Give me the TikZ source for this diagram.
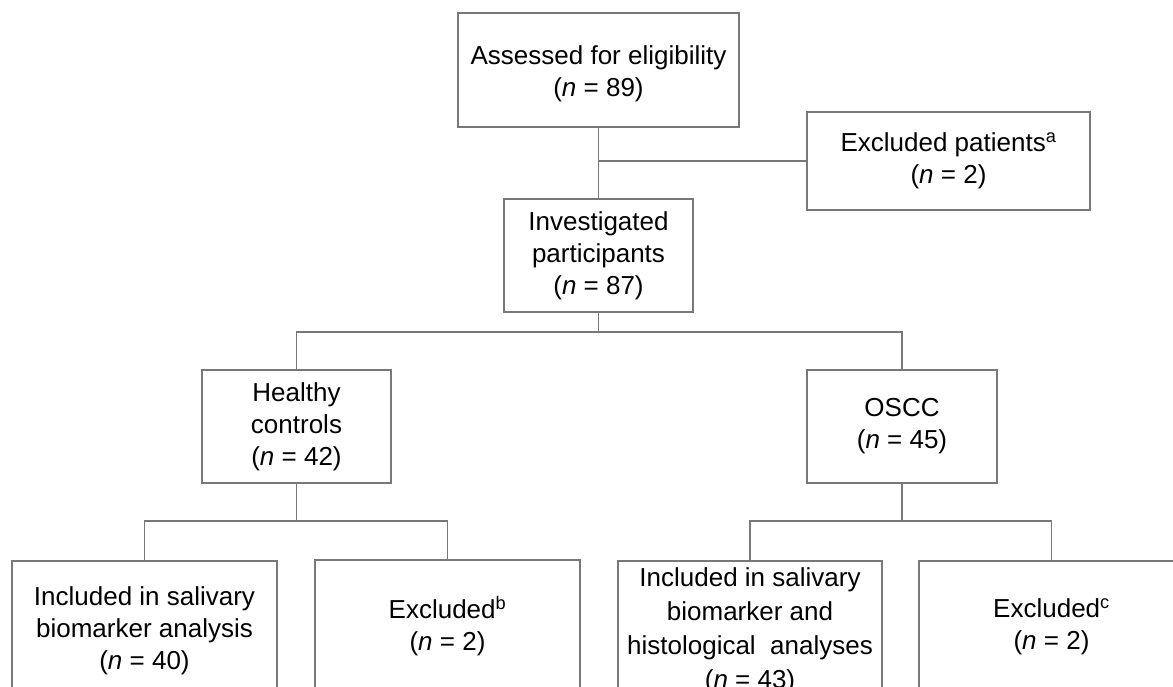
\documentclass[tikz,border=0pt]{standalone}
\usepackage{fontspec}
\setmainfont{Liberation Sans}
\definecolor{linegray}{RGB}{120,120,120}
\begin{document}
\begin{tikzpicture}[x=1pt,y=-1pt,
  box/.style={draw=linegray, line width=1.3pt, fill=white, align=center, inner sep=0pt,
              font=\fontsize{26}{32}\selectfont},
  conn/.style={draw=linegray, line width=1.5pt}]
\useasboundingbox (0,0) rectangle (1173,686);
\clip (0,0) rectangle (1173,686);
\fill[white] (0,0) rectangle (1173,686);
% nodes
\node[box, minimum width=281pt, minimum height=114pt] (A) at (598.5,70) {\rule{0pt}{27pt}Assessed for eligibility\\(\textit{n} = 89)};
\node[box, minimum width=283pt, minimum height=98pt] (E1) at (948.5,161) {Excluded patients\textsuperscript{a}\\(\textit{n} = 2)};
\node[box, minimum width=189pt, minimum height=113pt] (I) at (598.5,255.5) {Investigated\\participants\\(\textit{n} = 87)};
\node[box, minimum width=189pt, minimum height=113pt] (H) at (296.5,426.5) {Healthy\\controls\\(\textit{n} = 42)};
\node[box, minimum width=190pt, minimum height=113pt] (O) at (902,426.5) {OSCC\\(\textit{n} = 45)};
\node[box, minimum width=265pt, minimum height=140pt] (B1) at (144.5,631) {Included in salivary\\biomarker analysis\\(\textit{n} = 40)};
\node[box, minimum width=265pt, minimum height=140pt] (B2) at (447.5,630) {Excluded\textsuperscript{b}\\(\textit{n} = 2)\rule[-13pt]{0pt}{0pt}};
\node[box, minimum width=264pt, minimum height=140pt, font=\fontsize{26}{34}\selectfont] (B3) at (750,631) {Included in salivary\\biomarker and\\histological~ analyses\\(\textit{n} = 43)};
\node[box, minimum width=265pt, minimum height=140pt] (B4) at (1051.5,631) {Excluded\textsuperscript{c}\\(\textit{n} = 2)\rule[-13pt]{0pt}{0pt}};
% connectors
\draw[conn] (A.south) -- (I.north);
\coordinate (j1) at (A.south |- E1.west);
\draw[conn] (j1) -- (E1.west);
\coordinate (j2) at (598.5,332);
\draw[conn] (I.south) -- (j2);
\draw[conn] (H.north) |- (j2) -| (O.north);
\coordinate (j3) at (296.5,521);
\draw[conn] (H.south) -- (j3);
\draw[conn] (B1.north) |- (j3) -| (B2.north);
\coordinate (j4) at (902,521);
\draw[conn] (O.south) -- (j4);
\draw[conn] (B3.north) |- (j4) -| (B4.north);
\end{tikzpicture}
\end{document}
